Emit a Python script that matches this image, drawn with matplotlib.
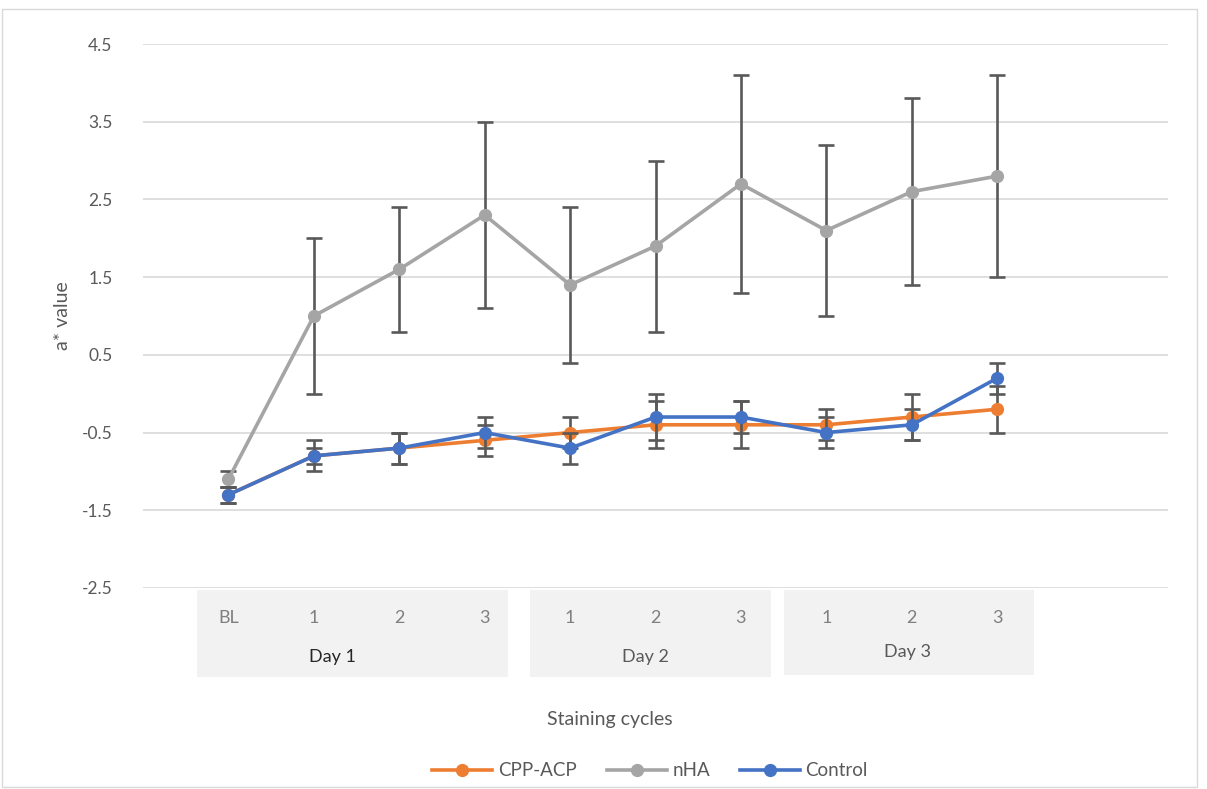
import matplotlib
matplotlib.use("Agg")
import matplotlib.pyplot as plt
import matplotlib.transforms as mtransforms
from matplotlib.patches import Rectangle

plt.rcParams['font.family'] = ['Lato', 'DejaVu Sans']

# ---- data ----
tick_labels = ["BL", "1", "2", "3", "1", "2", "3", "1", "2", "3"]
day_labels = ["Day 1", "Day 2", "Day 3"]
series_names = ["CPP-ACP", "nHA", "Control"]

cpp_acp = [-1.3, -0.8, -0.7, -0.6, -0.5, -0.4, -0.4, -0.4, -0.3, -0.2]
cpp_acp_err = [0.1, 0.2, 0.2, 0.2, 0.2, 0.3, 0.3, 0.2, 0.3, 0.3]

nha = [-1.1, 1.0, 1.6, 2.3, 1.4, 1.9, 2.7, 2.1, 2.6, 2.8]
nha_err = [0.1, 1.0, 0.8, 1.2, 1.0, 1.1, 1.4, 1.1, 1.2, 1.3]

control = [-1.3, -0.8, -0.7, -0.5, -0.7, -0.3, -0.3, -0.5, -0.4, 0.2]
control_err = [0.1, 0.1, 0.2, 0.2, 0.2, 0.3, 0.2, 0.2, 0.2, 0.2]

colors = ["#ED7D31", "#A5A5A5", "#4472C4"]
y_ticks = [-2.5, -1.5, -0.5, 0.5, 1.5, 2.5, 3.5, 4.5]

W, H = 1207, 789
fig = plt.figure(figsize=(W / 100, H / 100), dpi=100)
ax = fig.add_axes([143 / W, 1 - 588 / H, (1168 - 143) / W, (588 - 44) / H])

x = list(range(1, len(tick_labels) + 1))
ax.set_xlim(0, 12)
ax.set_ylim(-2.5, 4.5)

for i, (vals, errs, name) in enumerate(zip([cpp_acp, nha, control],
                                           [cpp_acp_err, nha_err, control_err],
                                           series_names)):
    z = [3, 2, 4][i]
    ax.errorbar(x, vals, yerr=errs, fmt='none', ecolor="#595959",
                elinewidth=1.9, capsize=6, capthick=1.9, zorder=z)
    ax.plot(x, vals, color=colors[i], lw=2.6, marker='o', markersize=8.5,
            label=name, zorder=z + 0.5)

ax.set_yticks(y_ticks)
ax.set_yticklabels([f"{v:g}" for v in y_ticks], fontsize=12.5, color="#595959")
ax.tick_params(axis='y', length=0, pad=22)
ax.grid(axis='y', color="#d9d9d9", lw=1.2)
ax.set_axisbelow(True)
for s in ax.spines.values():
    s.set_visible(False)

ax.set_xticks(x)
ax.set_xticklabels(tick_labels, fontsize=13, color="#7f7f7f")
ax.tick_params(axis='x', length=0, pad=16)

# grey group boxes behind category labels
trans = mtransforms.blended_transform_factory(ax.transData, fig.transFigure)
boxes = [(0.63, 4.27, 590, 677), (4.53, 7.35, 590, 677), (7.5, 10.43, 590, 675)]
for (x0, x1, ytop, ybot) in boxes:
    fig.add_artist(Rectangle((x0, 1 - ybot / H), x1 - x0, (ybot - ytop) / H,
                             transform=trans, facecolor="#f2f2f2",
                             edgecolor="none", zorder=0))
day_pos = [2.22, 5.88, 8.95]
day_y = [657, 657, 652]
day_col = ["#262626", "#595959", "#595959"]
for lab, px, py, c in zip(day_labels, day_pos, day_y, day_col):
    fig.text(px, 1 - py / H, lab, transform=trans, ha='center', va='center',
             fontsize=13, color=c)

fig.text(610 / W, 1 - 720 / H, "Staining cycles", ha='center', va='center',
         fontsize=14, color="#595959")
fig.text(62 / W, 1 - 316 / H, "a* value", ha='center', va='center',
         rotation=90, fontsize=14, color="#595959")

leg = fig.legend(loc='center', bbox_to_anchor=(650 / W, 1 - 771 / H), ncol=3,
                 frameon=False, fontsize=13.5, handlelength=3.2,
                 columnspacing=1.6, handletextpad=0.3)
for t in leg.get_texts():
    t.set_color("#595959")

fig.add_artist(Rectangle((0.002, 0.002), 0.990, 0.987, transform=fig.transFigure,
                         facecolor='none', edgecolor="#d9d9d9", lw=1))

fig.savefig("out.png", dpi=100)
